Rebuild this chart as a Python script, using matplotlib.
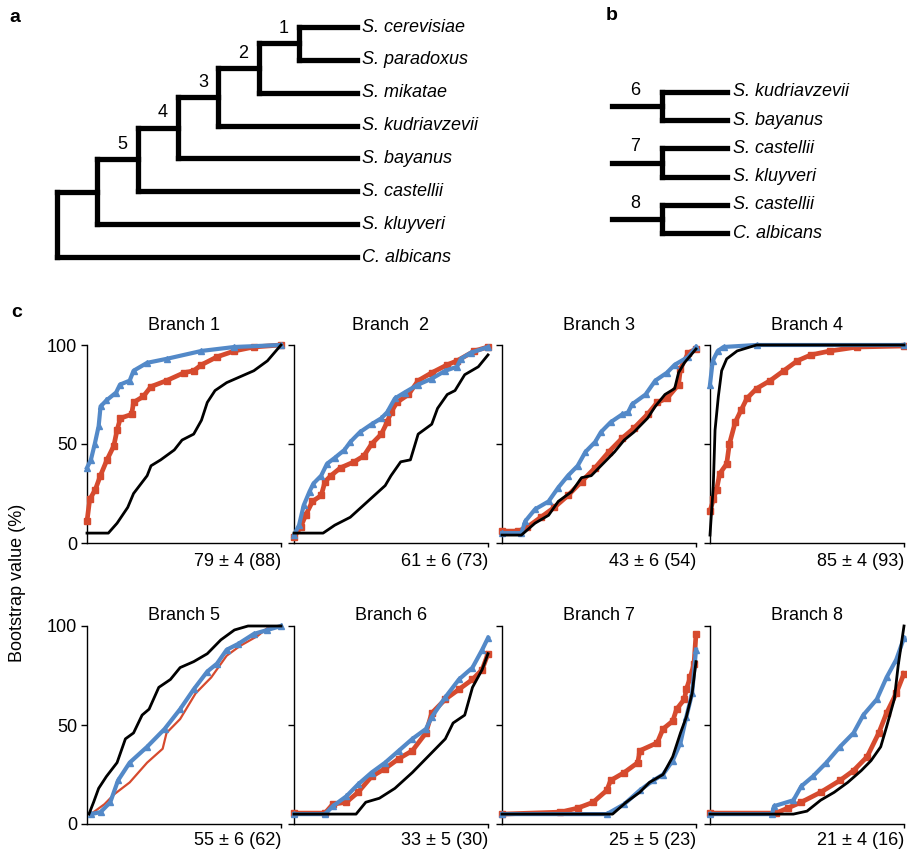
import matplotlib
matplotlib.use('Agg')
import matplotlib.pyplot as plt

plt.rcParams['font.family'] = ['Liberation Sans', 'DejaVu Sans']
plt.rcParams['font.size'] = 13

W, H = 907, 852
RED = '#D64A2E'
BLUE = '#5389C8'

# ---- trees ----
tree_a = ((((((('S. cerevisiae', 'S. paradoxus'), 'S. mikatae'), 'S. kudriavzevii'),
             'S. bayanus'), 'S. castellii'), 'S. kluyveri'), 'C. albicans')
tree_a_node_labels = {6: '1', 5: '2', 4: '3', 3: '4', 2: '5'}
tree_b = [('S. kudriavzevii', 'S. bayanus'), ('S. castellii', 'S. kluyveri'),
          ('S. castellii', 'C. albicans')]
tree_b_labels = ['6', '7', '8']

# ---- panel c data (x = % of genes, y = bootstrap %) ----
titles = ['Branch 1', 'Branch  2', 'Branch 3', 'Branch 4',
          'Branch 5', 'Branch 6', 'Branch 7', 'Branch 8']
stats = ['79 ± 4 (88)', '61 ± 6 (73)', '43 ± 6 (54)', '85 ± 4 (93)',
         '55 ± 6 (62)', '33 ± 5 (30)', '25 ± 5 (23)', '21 ± 4 (16)']

b1_blue_x = [0, 2, 4, 6, 7, 10, 15, 17, 22, 24, 31, 41, 59, 76, 100]
b1_blue_y = [38, 42, 50, 59, 69, 72, 76, 80, 82, 87, 91, 93, 97, 99, 100]
b1_red_x = [0, 1.4, 4.3, 6.9, 10.3, 13.8, 15.5, 17.2, 23, 24, 29, 33, 41, 50, 55, 59, 67, 76, 86, 100]
b1_red_y = [11, 22, 27, 34, 42, 49, 57, 63, 65, 71, 74, 79, 82, 86, 87, 90, 94, 97, 99, 100]
b1_black_x = [0, 11, 15.5, 21, 24, 31, 33, 38, 45, 49, 55, 59, 62, 66, 72, 79, 86, 93, 100]
b1_black_y = [5, 5, 10, 18, 25, 34, 39, 42, 47, 52, 55, 62, 71, 77, 81, 84, 87, 92, 100]

b2_blue_x = [0, 2.6, 5, 8, 10, 14, 17, 21, 26, 29, 34, 40, 45, 48, 52, 57, 64, 71, 78, 84, 86, 91, 100]
b2_blue_y = [4, 9, 19, 26, 30, 34, 40, 43, 47, 51, 56, 60, 63, 66, 73, 76, 80, 83, 87, 89, 93, 96, 99]
b2_red_x = [0, 3.4, 6, 9.5, 14, 16, 19, 24, 31, 36, 40, 45, 48, 50, 53, 59, 64, 71, 79, 84, 93, 100]
b2_red_y = [3, 8, 14, 21, 24, 31, 34, 38, 41, 44, 50, 55, 61, 66, 71, 75, 82, 86, 90, 92, 97, 99]
b2_black_x = [0, 15, 21, 29, 38, 47, 50, 55, 60, 64, 71, 74, 79, 83, 88, 95, 100]
b2_black_y = [5, 5, 9, 13, 21, 29, 34, 41, 42, 55, 60, 68, 75, 77, 85, 89, 95]

b3_blue_x = [0, 10, 12, 17, 24, 29, 34, 39, 43, 48, 51, 56, 62, 65, 67, 74, 79, 85, 89, 96, 100]
b3_blue_y = [5, 5, 11, 17, 21, 28, 34, 39, 46, 51, 56, 61, 65, 66, 70, 75, 82, 86, 90, 94, 99]
b3_red_x = [0, 8.5, 13, 20, 27, 34, 41, 48, 55, 62, 68, 75, 80, 85, 91, 92, 96, 100]
b3_red_y = [6, 6, 8, 13, 18, 24, 31, 38, 46, 53, 58, 65, 71, 73, 80, 88, 96, 98]
b3_black_x = [0, 10, 17, 24, 29, 36, 41, 46, 53, 58, 63, 68, 75, 79, 84, 89, 91, 94, 100]
b3_black_y = [4, 4, 10, 14, 21, 26, 33, 34, 41, 46, 52, 56, 63, 69, 75, 78, 86, 91, 98]

b4_blue_x = [0, 1.4, 4, 7, 24, 100]
b4_blue_y = [80, 92, 97, 99, 100, 100]
b4_red_x = [0, 1.7, 3.4, 5, 8.6, 10, 13, 16, 19, 24, 31, 38, 45, 52, 62, 76, 100]
b4_red_y = [16, 22, 27, 35, 40, 50, 61, 67, 73, 78, 82, 87, 92, 95, 97, 99, 99.5]
b4_black_x = [0, 1.7, 2.6, 4.3, 6, 8.6, 14, 24, 100]
b4_black_y = [4, 29, 57, 74, 87, 93, 97, 100, 100]

b5_blue_x = [2, 7, 12, 16, 22, 31, 40, 48, 55, 62, 67, 72, 78, 86, 93, 100]
b5_blue_y = [5, 6, 11, 22, 31, 39, 48, 58, 68, 77, 81, 88, 91, 96, 98, 100]
b5_red_x = [3.4, 9, 14, 22, 31, 39, 41, 48, 56, 64, 72, 79, 88, 93, 100]
b5_red_y = [6, 10, 15, 21, 31, 38, 46, 53, 66, 74, 85, 90, 95, 99, 100]
b5_black_x = [1, 3.4, 6, 10, 15.5, 19.8, 24, 28.4, 32, 37, 43, 48, 55, 62, 69, 76, 83, 100]
b5_black_y = [5, 11, 18, 24, 31, 43, 46, 55, 58, 69, 73, 79, 82, 86, 93, 98, 100, 100]

b6_blue_x = [0, 16, 20, 27, 33, 40, 47, 54, 61, 68, 71, 78, 85, 92, 97, 100]
b6_blue_y = [5, 5, 9, 14, 20, 26, 31, 37, 43, 48, 54, 64, 73, 79, 88, 94]
b6_red_x = [0, 16, 20, 27, 33, 40, 47, 54, 61, 68, 71, 78, 85, 92, 97, 100]
b6_red_y = [5.5, 5.5, 10, 11, 16, 24, 28, 33, 37, 46, 56, 63, 68, 73, 78, 86]
b6_black_x = [0, 32, 37, 44, 52, 61, 69, 78, 82, 88, 92, 97, 100]
b6_black_y = [5, 5, 11, 13, 18, 26, 34, 43, 51, 55, 69, 78, 86]

b7_blue_x = [0, 54, 63, 71, 78, 83, 88, 92, 95, 98, 100]
b7_blue_y = [5, 5, 10, 17, 22, 25, 32, 41, 54, 66, 88]
b7_red_x = [0, 30, 39, 47, 54, 56, 63, 70, 71, 80, 83, 88, 90, 94, 95, 97, 99, 100]
b7_red_y = [5, 6, 8, 11, 17, 22, 26, 31, 37, 41, 48, 52, 58, 63, 68, 74, 81, 96]
b7_black_x = [0, 57, 64, 71, 76, 83, 88, 92, 95, 98, 100]
b7_black_y = [5, 5, 11, 16, 21, 25, 34, 46, 54, 66, 82]

b8_blue_x = [0, 32, 33, 43, 47, 53, 60, 67, 74, 79, 86, 91, 96, 100]
b8_blue_y = [5, 5, 9, 12, 19, 24, 31, 39, 46, 55, 63, 74, 83, 94]
b8_red_x = [0, 34, 40, 47, 57, 67, 74, 81, 87, 91, 96, 100]
b8_red_y = [5.5, 5.5, 8, 11, 16, 22, 27, 34, 46, 56, 66, 76]
b8_black_x = [0, 43, 50, 57, 64, 71, 78, 83, 88, 91, 95, 97, 100]
b8_black_y = [5, 5, 6.5, 12, 16, 21, 27, 32, 39, 49, 63, 80, 100]

blue_series = [(b1_blue_x, b1_blue_y), (b2_blue_x, b2_blue_y), (b3_blue_x, b3_blue_y),
               (b4_blue_x, b4_blue_y), (b5_blue_x, b5_blue_y), (b6_blue_x, b6_blue_y),
               (b7_blue_x, b7_blue_y), (b8_blue_x, b8_blue_y)]
red_series = [(b1_red_x, b1_red_y), (b2_red_x, b2_red_y), (b3_red_x, b3_red_y),
              (b4_red_x, b4_red_y), (b5_red_x, b5_red_y), (b6_red_x, b6_red_y),
              (b7_red_x, b7_red_y), (b8_red_x, b8_red_y)]
black_series = [(b1_black_x, b1_black_y), (b2_black_x, b2_black_y), (b3_black_x, b3_black_y),
                (b4_black_x, b4_black_y), (b5_black_x, b5_black_y), (b6_black_x, b6_black_y),
                (b7_black_x, b7_black_y), (b8_black_x, b8_black_y)]


def px_axes(fig, x0, y0, x1, y1):
    return fig.add_axes([x0 / W, 1 - y1 / H, (x1 - x0) / W, (y1 - y0) / H])


fig = plt.figure(figsize=(W / 100, H / 100), dpi=100)

# panel a: ladder tree
ax_a = px_axes(fig, 57, 27, 357, 257)
ax_a.set_xlim(0, 7.44)
ax_a.set_ylim(7, 0)
ax_a.axis('off')
leaf_x = 7.44
tree_lw = 3.8
counter = [0]


def draw_clade(ax, node, depth):
    if isinstance(node, str):
        y = counter[0]
        counter[0] += 1
        ax.text(leaf_x + 0.12, y, node, style='italic', va='center', ha='left', clip_on=False)
        return leaf_x, y
    pts = [draw_clade(ax, child, depth + 1) for child in node]
    ys = [p[1] for p in pts]
    for cx, cy in pts:
        ax.plot([depth, cx], [cy, cy], color='black', lw=tree_lw,
                solid_capstyle='projecting', clip_on=False)
    ax.plot([depth, depth], [min(ys), max(ys)], color='black', lw=tree_lw,
            solid_capstyle='projecting', clip_on=False)
    mid = (min(ys) + max(ys)) / 2
    if depth in tree_a_node_labels:
        ax.text(depth - 0.38, mid - 0.45, tree_a_node_labels[depth],
                ha='center', va='center')
    return depth, mid


draw_clade(ax_a, tree_a, 0)

# panel b: three cherries
ax_b = px_axes(fig, 612, 92, 727, 233)
ax_b.set_xlim(0, 2.3)
ax_b.set_ylim(5, 0)
ax_b.axis('off')
for k, (top, bottom) in enumerate(tree_b):
    y0, y1 = 2 * k, 2 * k + 1
    ym = (y0 + y1) / 2
    ax_b.plot([0, 1], [ym, ym], color='black', lw=tree_lw, solid_capstyle='projecting', clip_on=False)
    ax_b.plot([1, 1], [y0, y1], color='black', lw=tree_lw, solid_capstyle='projecting', clip_on=False)
    for yy, name in ((y0, top), (y1, bottom)):
        ax_b.plot([1, 2.3], [yy, yy], color='black', lw=tree_lw, solid_capstyle='projecting', clip_on=False)
        ax_b.text(2.42, yy, name, style='italic', va='center', ha='left')
    ax_b.text(0.46, ym - 0.55, tree_b_labels[k], ha='center', va='center')

# panel labels
fig.text(15 / W, 1 - 17 / H, 'a', weight='bold', ha='center', va='center', fontsize=14)
fig.text(612 / W, 1 - 15 / H, 'b', weight='bold', ha='center', va='center', fontsize=14)
fig.text(17 / W, 1 - 313 / H, 'c', weight='bold', ha='center', va='center', fontsize=14)

# panel c: 2 x 4 grid
col_left = [87, 294, 502, 710]
row_top = [345, 626]
aw, ah = 194, 198
for i in range(8):
    r, c = divmod(i, 4)
    ax = px_axes(fig, col_left[c], row_top[r], col_left[c] + aw, row_top[r] + ah)
    ax.set_xlim(0, 100)
    ax.set_ylim(0, 100)
    for s in ('top', 'right'):
        ax.spines[s].set_visible(False)
    for s in ('left', 'bottom'):
        ax.spines[s].set_linewidth(1.0)
    ax.set_yticks([0, 50, 100])
    ax.set_xticks([100])
    ax.set_xticklabels([])
    ax.tick_params(axis='y', length=4, width=1.0, pad=3, labelsize=13)
    ax.tick_params(axis='x', length=3, width=1.0)
    if c != 0:
        ax.set_yticklabels([])

    rx, ry = red_series[i]
    bx, by = blue_series[i]
    kx, ky = black_series[i]
    if i == 4:
        ax.plot(rx, ry, color=RED, lw=1.6, clip_on=False, zorder=3)
    else:
        ax.plot(rx, ry, color=RED, lw=3.4, marker='s', ms=4.5, clip_on=False, zorder=3)
    ax.plot(bx, by, color=BLUE, lw=3.0, marker='^', ms=5, clip_on=False, zorder=4)
    ax.plot(kx, ky, color='black', lw=2.0, clip_on=False, zorder=5)

    ax.set_title(titles[i], fontsize=13, pad=10.5 if r == 0 else 4.5)
    ax.text(1.0, -0.095 if r == 0 else -0.082, stats[i], transform=ax.transAxes,
            ha='right', va='center', fontsize=13)

fig.text(18 / W, 1 - 583 / H, 'Bootstrap value (%)', rotation=90, ha='center', va='center', fontsize=13)

fig.savefig('out.png', dpi=100)
